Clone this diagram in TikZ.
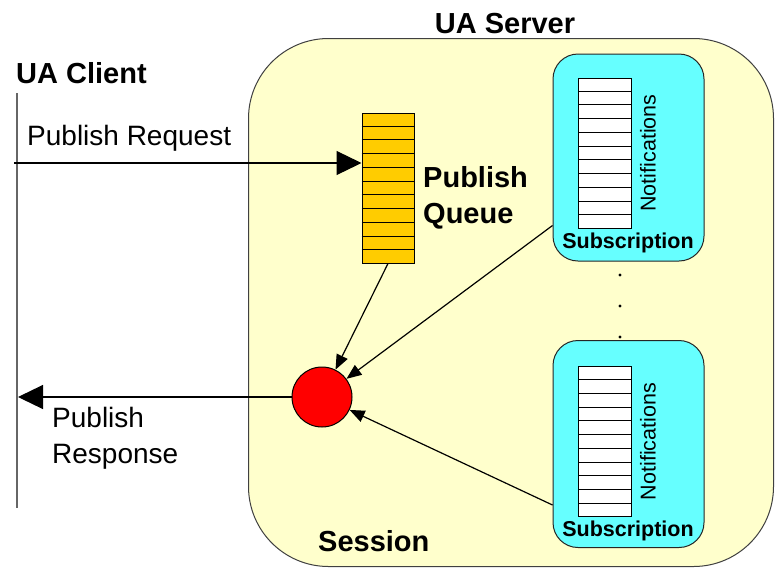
\documentclass[tikz,border=0pt]{standalone}
\usepackage{fontspec}
\setmainfont{Liberation Sans}
\usetikzlibrary{arrows.meta,calc}
\definecolor{srvfill}{HTML}{FFFFCC}
\definecolor{subfill}{HTML}{66FFFF}
\definecolor{qfill}{HTML}{FFCC00}
\begin{document}
\begin{tikzpicture}[x=1pt,y=-1pt,
  big/.style={font=\fontsize{29}{34}\selectfont\bfseries},
  plain/.style={font=\fontsize{28}{34}\selectfont},
  small/.style={font=\fontsize{21.5}{26}\selectfont},
  smallbold/.style={font=\fontsize{21.5}{26}\selectfont\bfseries},
  subbox/.style={draw=black!85, fill=subfill, line width=1pt, rounded corners=25pt,
    minimum width=151pt, minimum height=207pt, inner sep=0pt},
  stackbox/.style={draw=black, line width=1pt, minimum width=53pt, minimum height=150pt, inner sep=0pt},
  bigarrow/.style={line width=1.2pt, -{Triangle[length=25pt,width=24pt]}},
  smallarrow/.style={line width=1.2pt, -{Triangle[length=15pt,width=12pt]}}]
\useasboundingbox (0,0) rectangle (775,568);

% session area inside the server
\node[draw=black!75, fill=srvfill, line width=1pt, rounded corners=80pt,
  minimum width=525pt, minimum height=528pt, inner sep=0pt, anchor=north west]
  (server) at (248,38) {};

% client life line
\coordinate (ctop) at (17,93);
\coordinate (cbot) at (17,508);
\draw[black!60, line width=2pt] (ctop) -- (cbot);

% titles
\node[big, anchor=base west, inner sep=0pt] (client) at (16,83) {UA Client};
\node[big, anchor=base, inner sep=0pt] (srvlabel) at (505,33) {UA Server};
\node[big, anchor=base west, inner sep=0pt] (session) at (318,551) {Session};

% publish queue
\node[stackbox, fill=qfill, minimum width=52pt] (queue) at (388,188) {};
\foreach \i in {1,...,10}
  \draw[line width=1pt] ($(queue.north west)!\i/11!(queue.south west)$) -- ++(52,0);
\node[big, anchor=base west, inner sep=0pt] (pq1) at (423,187) {Publish};
\node[big, anchor=base west, inner sep=0pt] (pq2) at (423,223) {Queue};

% subscriptions with their notification queues
\foreach \n/\cy/\sy in {1/157.5/153, 2/444/441.5}{
  \node[subbox] (sub\n) at (628.5,\cy) {};
  \node[stackbox, fill=white] (stack\n) at (605,\sy) {};
  \foreach \i in {1,...,10}
    \draw[line width=1pt] ($(stack\n.north west)!\i/11!(stack\n.south west)$) -- ++(53,0);
  \node[small, rotate=90, inner sep=0pt] (notif\n) at (648,\sy) {Notifications};
}
\node[smallbold, anchor=base, inner sep=0pt] (subl1) at (628,248) {Subscription};
\node[smallbold, anchor=base, inner sep=0pt] (subl2) at (628,536) {Subscription};

% ellipsis between the subscriptions
\foreach \y in {275,306,337}
  \fill (620,\y) circle (1.6pt);

% publish point
\node[circle, draw=black, fill=red, line width=1pt, minimum size=60pt, inner sep=0pt] (pub) at (322,397) {};

% request and response
\coordinate (reqstart) at (14,163);
\coordinate (resend) at (18,397);
\draw[bigarrow] (reqstart) -- (queue.west |- reqstart);
\draw[bigarrow] (pub.west) -- (resend);
\node[plain, anchor=base west, inner sep=0pt] (reqlabel) at (27,145) {Publish Request};
\node[plain, anchor=base west, inner sep=0pt] (res1) at (52,427) {Publish};
\node[plain, anchor=base west, inner sep=0pt] (res2) at (52,463) {Response};

% feeds into the publish point
\coordinate (s1out) at ($(sub1.south west)+(0,-36)$);
\coordinate (s2out) at ($(sub2.south west)+(0,-43)$);
\draw[smallarrow] (queue.south) -- (pub);
\draw[smallarrow] (s1out) -- (pub);
\draw[smallarrow] (s2out) -- (pub);
\end{tikzpicture}
\end{document}
